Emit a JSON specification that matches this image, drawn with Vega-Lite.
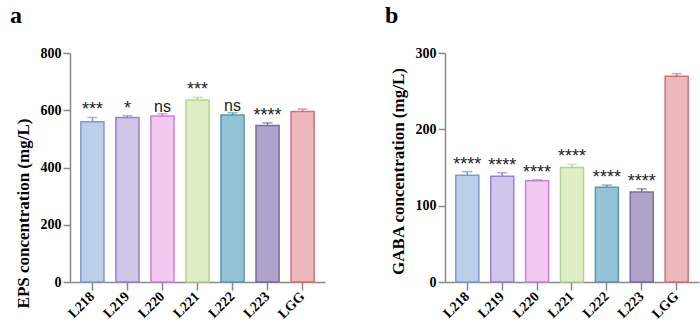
{
  "$schema": "https://vega.github.io/schema/vega-lite/v6.json",
  "padding": {"left": 10, "top": 4, "right": 2, "bottom": 2},
  "background": "white",
  "config": {
    "view": {"stroke": null},
    "axis": {
      "domainColor": "#8a8a8a", "tickColor": "#8a8a8a", "domainWidth": 1.5, "tickWidth": 1.5,
      "labelFont": "Liberation Serif", "labelFontWeight": "bold", "labelColor": "#000",
      "titleFont": "Liberation Serif", "titleFontWeight": "bold", "titleColor": "#000",
      "grid": false
    },
    "title": {"font": "Liberation Serif", "fontWeight": "bold", "fontSize": 24, "color": "#000", "anchor": "start", "frame": "bounds"}
  },
  "data": {"values": [
    {"strain": "L218", "eps": 560, "eps_err": 15, "eps_sig": "***", "gaba": 140, "gaba_err": 4.5, "gaba_sig": "****"},
    {"strain": "L219", "eps": 575, "eps_err": 6, "eps_sig": "*", "gaba": 138.7, "gaba_err": 4.5, "gaba_sig": "****"},
    {"strain": "L220", "eps": 580, "eps_err": 8, "eps_sig": "ns", "gaba": 132.5, "gaba_err": 1.5, "gaba_sig": "****"},
    {"strain": "L221", "eps": 636, "eps_err": 9, "eps_sig": "***", "gaba": 150, "gaba_err": 4, "gaba_sig": "****"},
    {"strain": "L222", "eps": 583, "eps_err": 8, "eps_sig": "ns", "gaba": 124, "gaba_err": 3, "gaba_sig": "****"},
    {"strain": "L223", "eps": 547, "eps_err": 9, "eps_sig": "****", "gaba": 118, "gaba_err": 4, "gaba_sig": "****"},
    {"strain": "LGG", "eps": 596, "eps_err": 8, "eps_sig": "", "gaba": 269.5, "gaba_err": 3.5, "gaba_sig": ""}
  ]},
  "spacing": 60,
  "hconcat": [
    {
      "title": {"text": "a", "dx": -4, "offset": 18},
      "width": 255, "height": 229,
      "transform": [{"calculate": "datum.eps + datum.eps_err", "as": "eps_top"}],
      "encoding": {
        "x": {"field": "strain", "type": "nominal", "sort": null,
          "scale": {"paddingInner": 0.34, "paddingOuter": 0.31},
          "axis": {"title": null, "labelAngle": 315, "labelAlign": "right", "labelBaseline": "middle", "labelFontSize": 14, "tickSize": 8, "labelPadding": 4}}
      },
      "layer": [
        {"mark": {"type": "rule", "strokeWidth": 1.5},
          "encoding": {"y": {"field": "eps", "type": "quantitative"}, "y2": {"field": "eps_top"},
            "color": {"field": "strain", "type": "nominal", "sort": null, "legend": null,
              "scale": {"range": ["#7b9bd0", "#9b80d0", "#d07fd3", "#b4d392", "#5b98b0", "#7d6c9e", "#d3707c"]}}}},
        {"mark": {"type": "tick", "thickness": 1.5, "size": 10},
          "encoding": {"y": {"field": "eps_top", "type": "quantitative"},
            "color": {"field": "strain", "type": "nominal", "sort": null, "legend": null}}},
        {"mark": {"type": "bar", "strokeWidth": 1.5},
          "encoding": {
            "y": {"field": "eps", "type": "quantitative",
              "scale": {"domain": [0, 800]},
              "axis": {"title": "EPS concentration (mg/L)", "titleFontSize": 17, "titleY": 160, "titleAlign": "center", "labelFontSize": 14, "values": [0, 200, 400, 600, 800], "tickSize": 7, "titlePadding": 8}},
            "fill": {"field": "strain", "type": "nominal", "sort": null, "legend": null,
              "scale": {"range": ["#bccfe9", "#d1c5ea", "#f3c9f2", "#dfeec4", "#93c3d5", "#aea2c8", "#edb8bc"]}},
            "stroke": {"field": "strain", "type": "nominal", "sort": null, "legend": null,
              "scale": {"range": ["#7b9bd0", "#9b80d0", "#d07fd3", "#b4d392", "#5b98b0", "#7d6c9e", "#d3707c"]}}
          }},
        {"mark": {"type": "text", "font": "Liberation Sans", "baseline": "alphabetic", "dy": -2, "color": "#222"},
          "encoding": {"y": {"field": "eps_top", "type": "quantitative"}, "text": {"field": "eps_sig"},
            "size": {"condition": {"test": "datum.eps_sig == 'ns'", "value": 16}, "value": 18}}}
      ]
    },
    {
      "title": {"text": "b", "dx": -4, "offset": 18},
      "width": 254, "height": 229,
      "transform": [{"calculate": "datum.gaba + datum.gaba_err", "as": "gaba_top"}],
      "encoding": {
        "x": {"field": "strain", "type": "nominal", "sort": null,
          "scale": {"paddingInner": 0.34, "paddingOuter": 0.31},
          "axis": {"title": null, "labelAngle": 315, "labelAlign": "right", "labelBaseline": "middle", "labelFontSize": 14, "tickSize": 8, "labelPadding": 4}}
      },
      "layer": [
        {"mark": {"type": "rule", "strokeWidth": 1.5},
          "encoding": {"y": {"field": "gaba", "type": "quantitative"}, "y2": {"field": "gaba_top"},
            "color": {"field": "strain", "type": "nominal", "sort": null, "legend": null,
              "scale": {"range": ["#7b9bd0", "#9b80d0", "#d07fd3", "#b4d392", "#5b98b0", "#7d6c9e", "#d3707c"]}}}},
        {"mark": {"type": "tick", "thickness": 1.5, "size": 10},
          "encoding": {"y": {"field": "gaba_top", "type": "quantitative"},
            "color": {"field": "strain", "type": "nominal", "sort": null, "legend": null}}},
        {"mark": {"type": "bar", "strokeWidth": 1.5},
          "encoding": {
            "y": {"field": "gaba", "type": "quantitative",
              "scale": {"domain": [0, 300]},
              "axis": {"title": "GABA concentration (mg/L)", "titleFontSize": 17, "titleY": 118, "titleAlign": "center", "labelFontSize": 14, "values": [0, 100, 200, 300], "tickSize": 7, "titlePadding": 8}},
            "fill": {"field": "strain", "type": "nominal", "sort": null, "legend": null,
              "scale": {"range": ["#bccfe9", "#d1c5ea", "#f3c9f2", "#dfeec4", "#93c3d5", "#aea2c8", "#edb8bc"]}},
            "stroke": {"field": "strain", "type": "nominal", "sort": null, "legend": null,
              "scale": {"range": ["#7b9bd0", "#9b80d0", "#d07fd3", "#b4d392", "#5b98b0", "#7d6c9e", "#d3707c"]}}
          }},
        {"mark": {"type": "text", "font": "Liberation Sans", "fontSize": 18, "baseline": "alphabetic", "dy": -2, "color": "#222"},
          "encoding": {"y": {"field": "gaba_top", "type": "quantitative"}, "text": {"field": "gaba_sig"}}}
      ]
    }
  ]
}
